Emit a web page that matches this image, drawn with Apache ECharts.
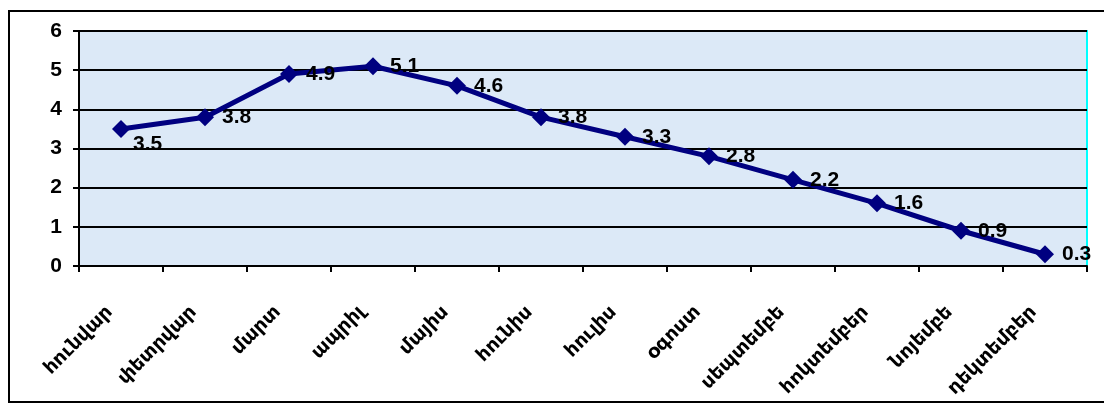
<!DOCTYPE html>
<html><head><meta charset="utf-8">
<script src="https://cdn.jsdelivr.net/npm/echarts@6/dist/echarts.min.js"></script>
<style>html,body{margin:0;padding:0;background:#fff}#c{width:1104px;height:405px}</style>
</head><body><div id="c"></div>
<script>
var months = ['հունվար','փետրվար','մարտ','ապրիլ','մայիս','հունիս','հուլիս','օգոստ','սեպտեմբե','հոկտեմբեր','նոյեմբե','դեկտեմբեր'];
var values = [3.5, 3.8, 4.9, 5.1, 4.6, 3.8, 3.3, 2.8, 2.2, 1.6, 0.9, 0.3];
var yTicks = [0, 1, 2, 3, 4, 5, 6];

var chart = echarts.init(document.getElementById('c'));
var data = values.map(function (v, i) {
  var d = {value: v};
  if (i === 0) d.label = {offset: [-5, 15]};
  return d;
});
chart.setOption({
  animation: false,
  graphic: [{type: 'rect', shape: {x: 9, y: 11, width: 1100, height: 391}, style: {fill: 'none', stroke: '#000', lineWidth: 2}, z: -1}],
  grid: {left: 79, right: 17, top: 31, bottom: 139, show: true, backgroundColor: '#dce9f7', borderColor: '#00ffff', borderWidth: 2},
  xAxis: {
    type: 'category', data: months, boundaryGap: true,
    axisLine: {lineStyle: {color: '#000', width: 2}},
    axisTick: {show: true, length: 6, lineStyle: {color: '#000', width: 2}},
    axisLabel: {interval: 0, rotate: 45, margin: 32, padding: [0, 16, 0, 0], fontFamily: 'DejaVu Sans', fontWeight: 'bold', fontSize: 19, color: '#000'}
  },
  yAxis: {
    type: 'value', min: 0, max: 6, interval: 1,
    axisLine: {show: true, lineStyle: {color: '#000', width: 2}},
    axisTick: {show: true, length: 6, lineStyle: {color: '#000', width: 2}},
    axisLabel: {margin: 17, fontFamily: 'Liberation Sans', fontWeight: 'bold', fontSize: 21, color: '#000',
      formatter: function (v) { return yTicks.indexOf(v) >= 0 ? String(v) : ''; }},
    splitLine: {show: true, lineStyle: {color: '#000', width: 2}}
  },
  series: [{
    type: 'line', data: data,
    lineStyle: {color: '#000080', width: 5},
    itemStyle: {color: '#000080'},
    symbol: 'diamond', symbolSize: 18, showAllSymbol: true,
    label: {show: true, position: 'right', distance: 8, formatter: function (p) { return p.value.toFixed(1); },
      fontFamily: 'Liberation Sans', fontWeight: 'bold', fontSize: 21, color: '#000'}
  }]
});
</script></body></html>
